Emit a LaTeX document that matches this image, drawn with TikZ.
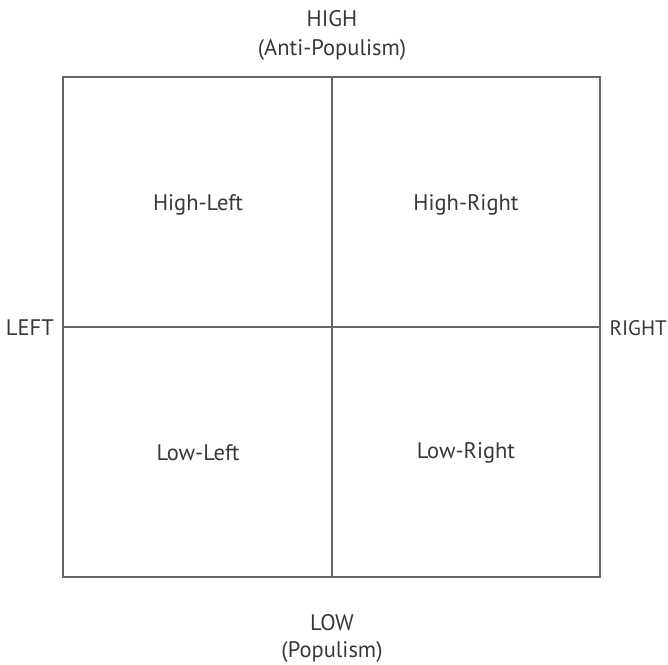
\documentclass[tikz,border=0pt]{standalone}
\usepackage{fontspec}
\setmainfont{PT Sans}
\begin{document}
\begin{tikzpicture}[x=1pt,y=-1pt,
  lab/.style={text=black!78, font=\fontsize{22.5}{26}\selectfont, inner sep=0pt},
  frame/.style={draw=black!60, line width=1.3pt}]
\useasboundingbox (0,0) rectangle (668,664);
\coordinate (tl) at (63,77);
\coordinate (br) at (600,577);
\coordinate (tm) at (332,77);
\coordinate (bm) at (332,577);
\coordinate (lm) at (63,327);
\coordinate (rm) at (600,327);
\draw[frame] (tl) rectangle (br);
\draw[frame] (tm) -- (bm);
\draw[frame] (lm) -- (rm);
\node[lab] (high) at (332,19) {HIGH};
\node[lab] (anti) at (332,50) {(Anti-Populism)};
\node[lab] (low) at (332,623) {LOW};
\node[lab] (pop) at (332,652) {(Populism)};
\node[lab, anchor=east] (left) at (54,328) {LEFT};
\node[lab, anchor=east, font=\fontsize{21}{24}\selectfont] (right) at (667,328) {RIGHT};
\node[lab] (hl) at (198,205) {High-Left};
\node[lab] (hr) at (466,205) {High-Right};
\node[lab] (ll) at (198,453) {Low-Left};
\node[lab] (lr) at (466,453) {Low-Right};
\end{tikzpicture}
\end{document}
